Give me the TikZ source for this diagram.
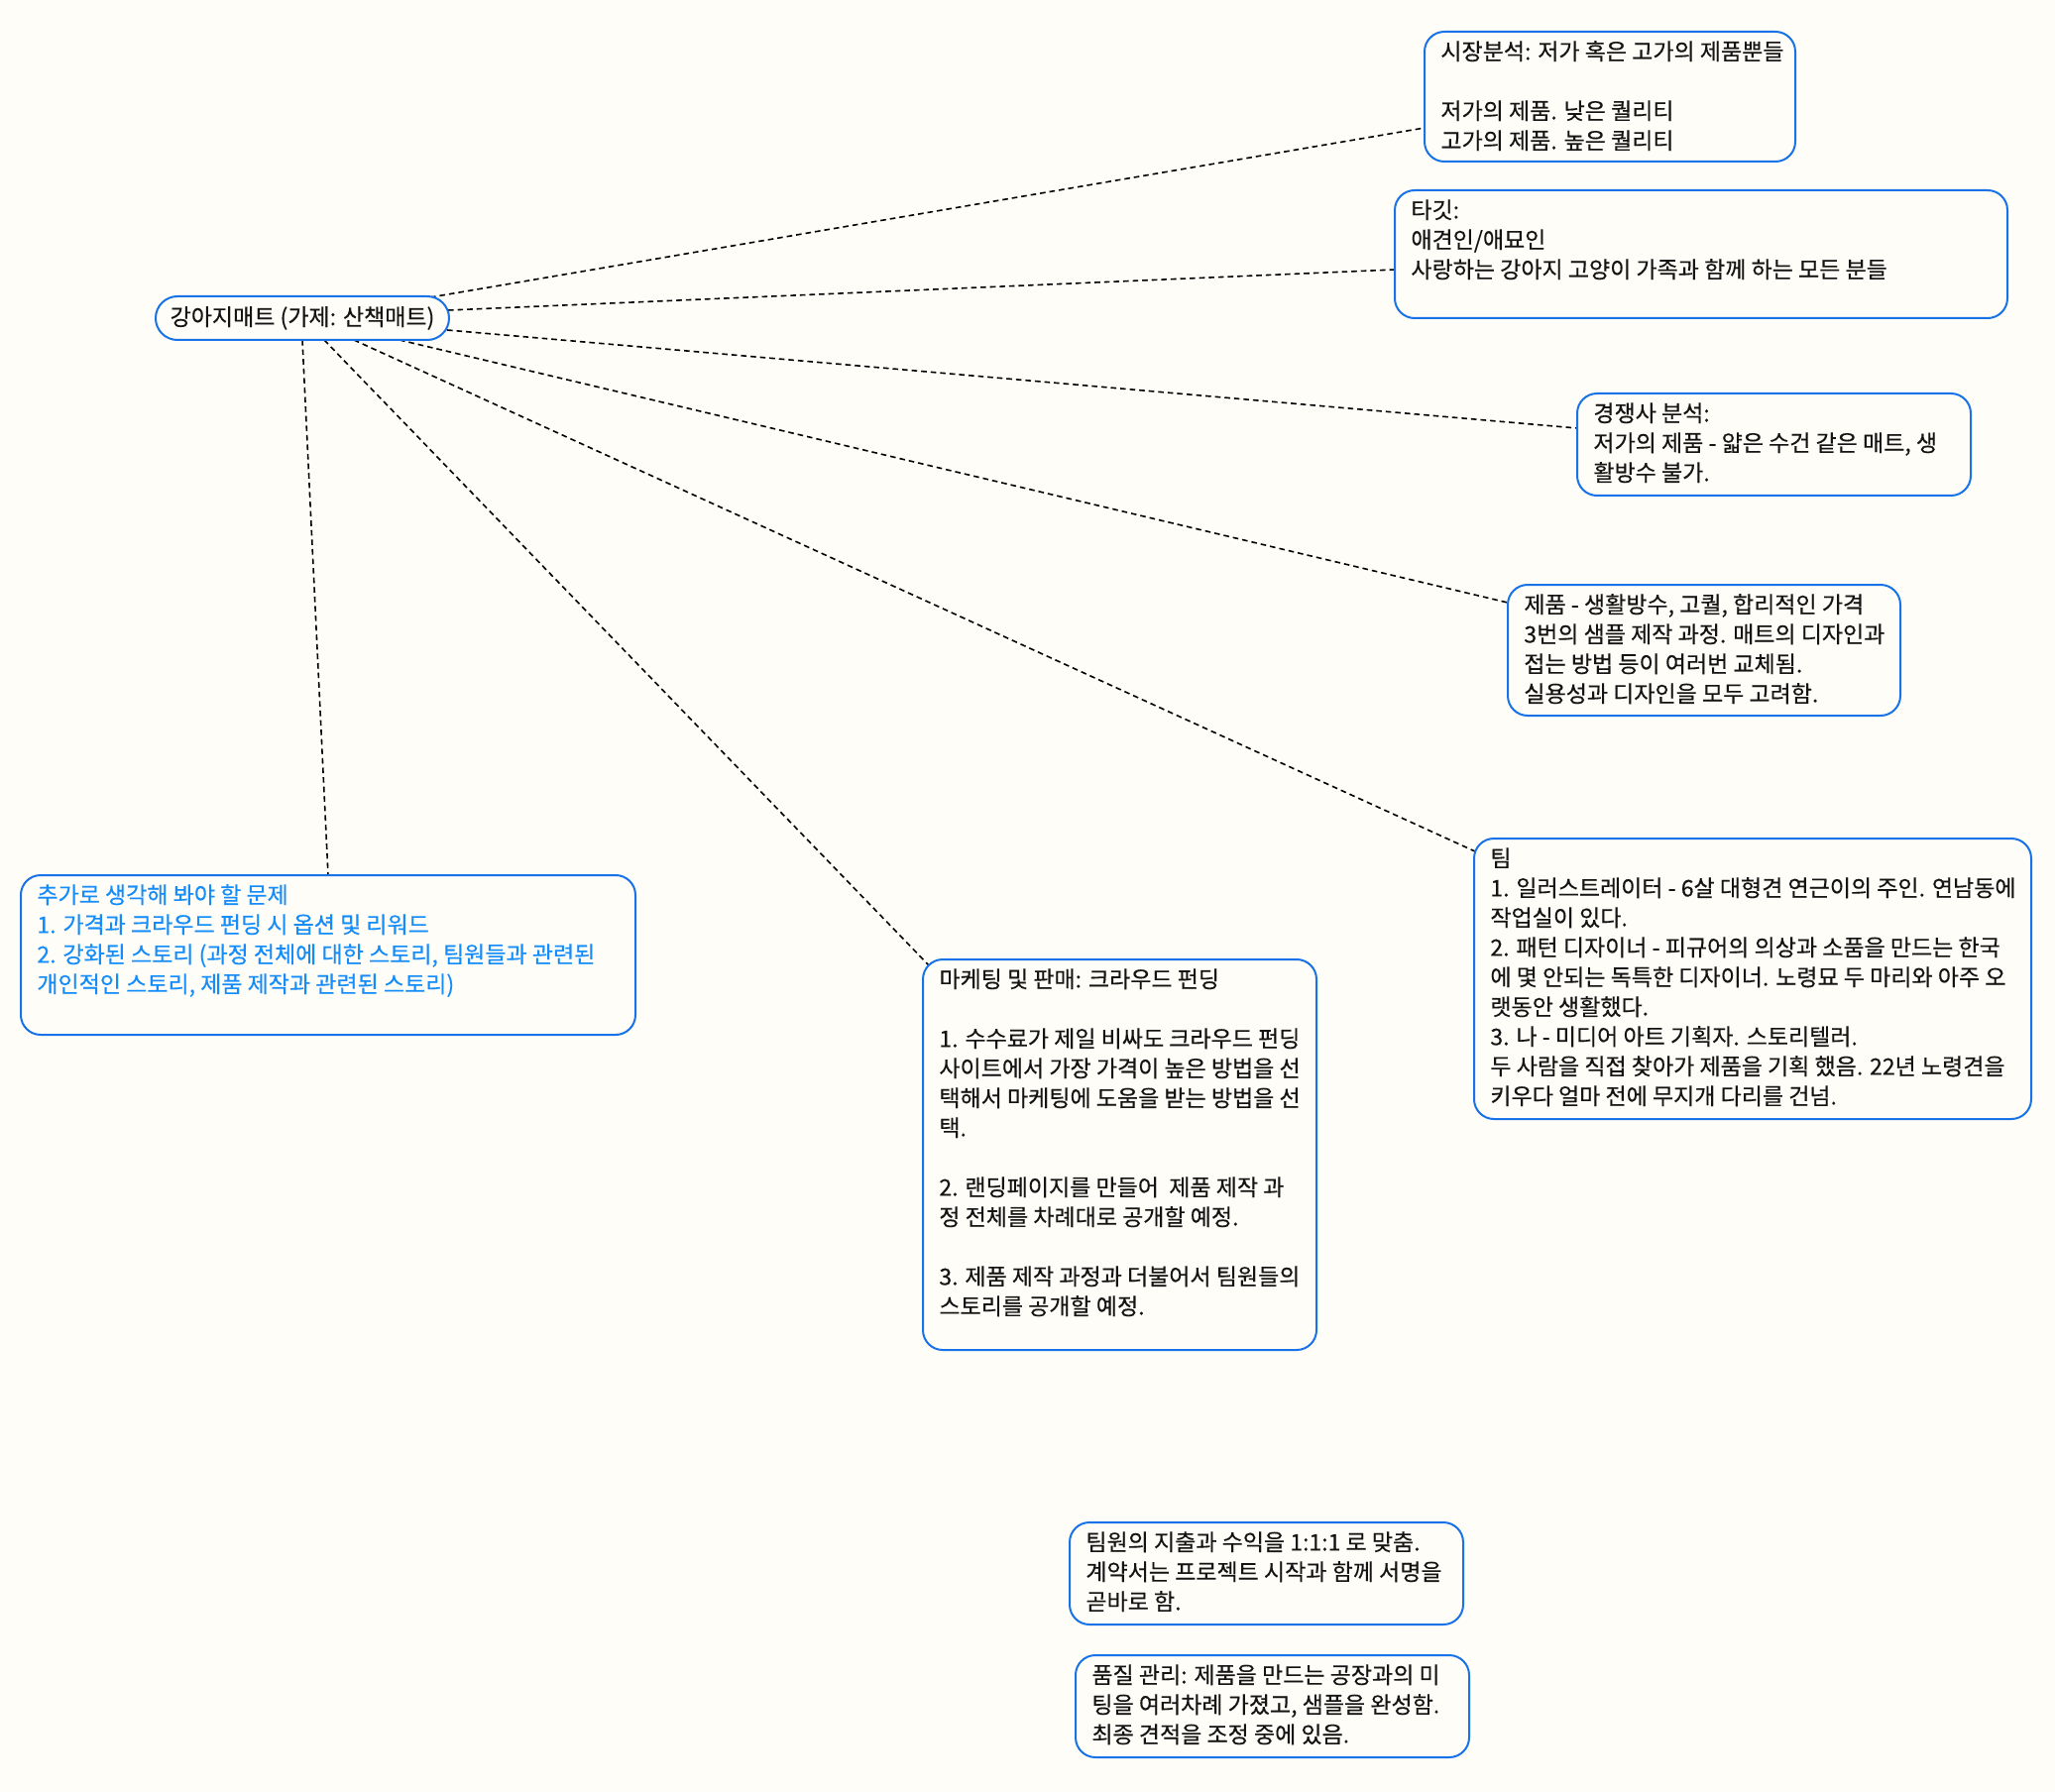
\documentclass[tikz,border=0pt]{standalone}
\usepackage{fontspec}
\setmainfont{Noto Sans CJK KR}[FakeBold=0.35]
\usetikzlibrary{calc}
\definecolor{bgc}{RGB}{255,253,247}
\definecolor{boxblue}{RGB}{24,115,232}
\definecolor{txtblue}{RGB}{20,140,250}
\definecolor{ink}{RGB}{20,20,20}
\pgfdeclarelayer{back}
\pgfdeclarelayer{lines}
\pgfsetlayers{back,lines,main}
\tikzset{
  card/.style={draw=boxblue, line width=1pt, fill=bgc, rounded corners=10pt,
    inner sep=0pt, outer sep=0pt, anchor=north west},
  cardtext/.style={anchor=north west, inner sep=0pt, align=left, text=ink,
    font=\fontsize{11.5pt}{15pt}\selectfont},
  conn/.style={draw=black, line width=0.8pt, dash pattern=on 2.8pt off 2pt},
}
\newcommand{\fst}{\rule{0pt}{10pt}}
\begin{document}
\begin{tikzpicture}[x=0.5pt,y=-0.5pt]
\begin{pgfonlayer}{back}
\fill[bgc] (0,0) rectangle (2073,1808);
\end{pgfonlayer}
\useasboundingbox (0,0) rectangle (2073,1808);

% central node
\node[card, anchor=north west, minimum width=148pt, minimum height=22pt, rounded corners=11pt,
  text=ink, font=\fontsize{11.5pt}{15pt}\selectfont] (main) at (157,299) {강아지매트 (가제: 산책매트)};

% market
\node[card, minimum width=187pt, minimum height=65.5pt] (mkt) at (1437,32) {};
\node[cardtext] (mktt) at ($(mkt.north west)+(16,8)$) {\fst 시장분석: 저가 혹은 고가의 제품뿐들\\[15pt]
저가의 제품. 낮은 퀄리티\\
고가의 제품. 높은 퀄리티};

% target
\node[card, minimum width=309pt, minimum height=64.5pt] (tgt) at (1407,192) {};
\node[cardtext] (tgtt) at ($(tgt.north west)+(16,8)$) {\fst 타깃:\\
애견인/애묘인\\
사랑하는 강아지 고양이 가족과 함께 하는 모든 분들};

% competitor
\node[card, minimum width=198.5pt, minimum height=51.5pt] (cmp) at (1591,397) {};
\node[cardtext] (cmpt) at ($(cmp.north west)+(16,8)$) {\fst 경쟁사 분석:\\
저가의 제품 - 얇은 수건 같은 매트, 생\\
활방수 불가.};

% product
\node[card, minimum width=198pt, minimum height=66pt] (prd) at (1521,590) {};
\node[cardtext] (prdt) at ($(prd.north west)+(16,8)$) {\fst 제품 - 생활방수, 고퀄, 합리적인 가격\\
3번의 샘플 제작 과정. 매트의 디자인과\\
접는 방법 등이 여러번 교체됨.\\
실용성과 디자인을 모두 고려함.};

% team
\node[card, minimum width=281pt, minimum height=141.5pt] (team) at (1487,846) {};
\node[cardtext] (teamt) at ($(team.north west)+(16,8)$) {\fst 팀\\
1. 일러스트레이터 - 6살 대형견 연근이의 주인. 연남동에\\
작업실이 있다.\\
2. 패턴 디자이너 - 피규어의 의상과 소품을 만드는 한국\\
에 몇 안되는 독특한 디자이너. 노령묘 두 마리와 아주 오\\
랫동안 생활했다.\\
3. 나 - 미디어 아트 기획자. 스토리텔러.\\
두 사람을 직접 찾아가 제품을 기획 했음. 22년 노령견을\\
키우다 얼마 전에 무지개 다리를 건넘.};

% marketing
\node[card, minimum width=198.5pt, minimum height=197pt] (mkg) at (931,968) {};
\node[cardtext] (mkgt) at ($(mkg.north west)+(16,8)$) {\fst 마케팅 및 판매: 크라우드 펀딩\\[15pt]
1. 수수료가 제일 비싸도 크라우드 펀딩\\
사이트에서 가장 가격이 높은 방법을 선\\
택해서 마케팅에 도움을 받는 방법을 선\\
택.\\[15pt]
2. 랜딩페이지를 만들어~~제품 제작 과\\
정 전체를 차례대로 공개할 예정.\\[15pt]
3. 제품 제작 과정과 더불어서 팀원들의\\
스토리를 공개할 예정.};

% additional questions
\node[card, minimum width=310pt, minimum height=80.5pt] (add) at (21,883) {};
\node[cardtext, text=txtblue] (addt) at ($(add.north west)+(16,8)$) {\fst 추가로 생각해 봐야 할 문제\\
1. 가격과 크라우드 펀딩 시 옵션 및 리워드\\
2. 강화된 스토리 (과정 전체에 대한 스토리, 팀원들과 관련된\\
개인적인 스토리, 제품 제작과 관련된 스토리)};

% money
\node[card, minimum width=198.5pt, minimum height=51.5pt] (money) at (1079,1536) {};
\node[cardtext] (moneyt) at ($(money.north west)+(16,8)$) {\fst 팀원의 지출과 수익을 1:1:1 로 맞춤.\\
계약서는 프로젝트 시작과 함께 서명을\\
곧바로 함.};

% quality
\node[card, minimum width=198.5pt, minimum height=51.5pt] (qual) at (1085,1670) {};
\node[cardtext] (qualt) at ($(qual.north west)+(16,8)$) {\fst 품질 관리: 제품을 만드는 공장과의 미\\
팅을 여러차례 가졌고, 샘플을 완성함.\\
최종 견적을 조정 중에 있음.};

% connectors
\begin{pgfonlayer}{lines}
\draw[conn] ($(main.north west)+(277,1)$) -- ($(mkt.north west)+(0,97)$);
\draw[conn] ($(main.north west)+(295,14)$) -- ($(tgt.north west)+(0,80)$);
\draw[conn] ($(main.north west)+(294,34)$) -- ($(cmp.north west)+(0,35)$);
\draw[conn] ($(main.north west)+(246,44)$) -- ($(prd.north west)+(0,18)$);
\draw[conn] ($(main.north west)+(200,44)$) -- ($(team.north west)+(1,13)$);
\draw[conn] ($(main.north west)+(170,44)$) -- ($(mkg.north west)+(6,6)$);
\draw[conn] (main.south) -- (add.north);
\end{pgfonlayer}
\end{tikzpicture}
\end{document}
